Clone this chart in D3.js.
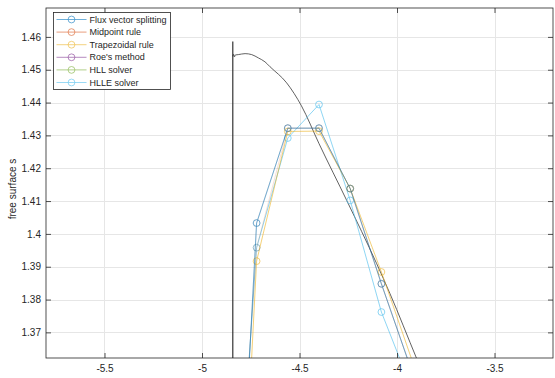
<!DOCTYPE html>
<html>
<head>
<meta charset="utf-8">
<script src="https://cdn.jsdelivr.net/npm/d3@7/dist/d3.min.js"></script>
<style>
  html, body { margin: 0; padding: 0; background: #fff; }
  svg { display: block; font-family: "Liberation Sans", Arial, Helvetica, sans-serif; }
</style>
</head>
<body>
<svg id="chart" width="555" height="378"></svg>
<script>
// Cell-centre positions of the numerical schemes
const cellX = [-4.88, -4.72, -4.56, -4.40, -4.24, -4.08, -3.92];

// Free-surface values of each scheme at the cell centres
const fluxVectorSplitting = [1.224, 1.4033, 1.4322, 1.4322, 1.4138, 1.3848, 1.3575];
const midpointRule        = [1.254, 1.3958, 1.4322, 1.4322, 1.4138, 1.3848, 1.3575];
const trapezoidalRule     = [1.206, 1.3917, 1.4312, 1.4313, 1.4138, 1.3884, 1.3610];
const roesMethod          = [1.224, 1.4033, 1.4322, 1.4322, 1.4138, 1.3848, 1.3575];
const hllSolver           = [1.224, 1.4033, 1.4322, 1.4322, 1.4138, 1.3848, 1.3575];
const hlleSolver          = [1.254, 1.3958, 1.4292, 1.4394, 1.4102, 1.3762, 1.3521];

const seriesNames = ["Flux vector splitting", "Midpoint rule", "Trapezoidal rule",
                     "Roe's method", "HLL solver", "HLLE solver"];
const seriesValues = [fluxVectorSplitting, midpointRule, trapezoidalRule,
                      roesMethod, hllSolver, hlleSolver];
const seriesColors = ["#0072BD", "#D95319", "#EDB120", "#7E2F8E", "#77AC30", "#4DBEEE"];
// thin strokes; schemes that coincide with others are drawn fainter underneath them
const seriesAlpha = [0.72, 0.25, 0.85, 0.15, 0.12, 0.9];
const legendAlpha = 0.8;

// Reference (exact) free surface
const exactX = [-4.842, -4.842, -4.842, -4.838, -4.834, -4.829, -4.814, -4.779, -4.745,
                -4.711, -4.677, -4.651, -4.566, -4.490, -4.400, -4.258, -4.104, -4.036, -3.899, -3.880];
const exactY = [1.300, 1.4586, 1.4541, 1.4547, 1.4539, 1.4545, 1.4546, 1.4549, 1.4546,
                1.4536, 1.4524, 1.4509, 1.4460, 1.4390, 1.4275, 1.4102, 1.3909, 1.3818, 1.3620, 1.3593];

// Axis ticks
const xTicks = [-5.5, -5, -4.5, -4, -3.5];
const yTicks = [1.37, 1.38, 1.39, 1.40, 1.41, 1.42, 1.43, 1.44, 1.45, 1.46];
const xDomain = [-5.8, -3.2];
const yDomain = [1.3622, 1.4688];

const svg = d3.select("#chart");
const L = 46, R = 553, T = 8, B = 358;
const x = d3.scaleLinear().domain(xDomain).range([L, R]);
const y = d3.scaleLinear().domain(yDomain).range([B, T]);
const axisColor = "#262626";

svg.append("defs").append("clipPath").attr("id", "plotClip")
  .append("rect").attr("x", L).attr("y", T).attr("width", R - L).attr("height", B - T);

// grid
const grid = svg.append("g").attr("stroke", "#e6e6e6").attr("stroke-width", 1);
grid.selectAll(".gx").data(xTicks).join("line")
  .attr("x1", d => Math.round(x(d)) + 0.5).attr("x2", d => Math.round(x(d)) + 0.5)
  .attr("y1", T).attr("y2", B);
grid.selectAll(".gy").data(yTicks).join("line")
  .attr("y1", d => Math.round(y(d)) + 0.5).attr("y2", d => Math.round(y(d)) + 0.5)
  .attr("x1", L).attr("x2", R);

// data
const plot = svg.append("g").attr("clip-path", "url(#plotClip)");
const line = d3.line().x(d => x(d[0])).y(d => y(d[1]));

const exactPts = exactX.map((v, i) => [v, exactY[i]]);
plot.append("path")
  .attr("d", d3.line().x(d => x(d[0])).y(d => y(d[1])).curve(d3.curveMonotoneX)(exactPts.slice(2)))
  .attr("fill", "none").attr("stroke", "#3a3a3a").attr("stroke-width", 0.8);
plot.append("path")
  .attr("d", line(exactPts.slice(0, 3)))
  .attr("fill", "none").attr("stroke", "#222").attr("stroke-width", 1.1);

// later series first so the first-listed scheme sits on top
const order = d3.range(seriesNames.length).reverse();
order.forEach(i => {
  const pts = cellX.map((v, j) => [v, seriesValues[i][j]]);
  const g = plot.append("g").attr("opacity", seriesAlpha[i]);
  g.append("path").attr("d", line(pts))
    .attr("fill", "none").attr("stroke", seriesColors[i]).attr("stroke-width", 0.7);
  g.selectAll("circle").data(pts).join("circle")
    .attr("cx", d => x(d[0])).attr("cy", d => y(d[1])).attr("r", 3.4)
    .attr("fill", "none").attr("stroke", seriesColors[i]).attr("stroke-width", 0.7);
});

// axes (ticks point inward, box on all sides)
function styleAxis(g) {
  g.select(".domain").remove();
  g.selectAll(".tick line").attr("stroke", axisColor).attr("stroke-width", 0.8);
  g.selectAll(".tick text").attr("fill", axisColor).attr("font-size", 10);
}
svg.append("g").attr("transform", `translate(0,${B})`)
  .call(d3.axisBottom(x).tickValues(xTicks).tickFormat(d => String(d)).tickSize(-5).tickPadding(7))
  .call(styleAxis);
svg.append("g").attr("transform", `translate(0,${T})`)
  .call(d3.axisTop(x).tickValues(xTicks).tickFormat("").tickSize(-5))
  .call(styleAxis);
svg.append("g").attr("transform", `translate(${L},0)`)
  .call(d3.axisLeft(y).tickValues(yTicks).tickFormat(d => String(+d.toFixed(2))).tickSize(-5).tickPadding(5))
  .call(styleAxis);
svg.append("g").attr("transform", `translate(${R},0)`)
  .call(d3.axisRight(y).tickValues(yTicks).tickFormat("").tickSize(-5))
  .call(styleAxis);
svg.append("rect").attr("x", L).attr("y", T).attr("width", R - L).attr("height", B - T)
  .attr("fill", "none").attr("stroke", axisColor).attr("stroke-width", 0.8);

svg.append("text")
  .attr("transform", "translate(16,189) rotate(-90)")
  .attr("text-anchor", "middle").attr("font-size", 10).attr("fill", axisColor)
  .text("free surface s");

// legend
const lg = svg.append("g").attr("transform", "translate(53.5,12.5)");
lg.append("rect").attr("width", 117).attr("height", 77)
  .attr("fill", "#fff").attr("stroke", axisColor).attr("stroke-width", 0.8);
seriesNames.forEach((name, i) => {
  const cy = 7 + i * 12.6;
  const key = lg.append("g").attr("opacity", legendAlpha);
  key.append("line").attr("x1", 3).attr("x2", 33).attr("y1", cy).attr("y2", cy)
    .attr("stroke", seriesColors[i]).attr("stroke-width", 0.7);
  key.append("circle").attr("cx", 18).attr("cy", cy).attr("r", 3.4)
    .attr("fill", "none").attr("stroke", seriesColors[i]).attr("stroke-width", 0.7);
  lg.append("text").attr("x", 36).attr("y", cy).attr("dy", "0.35em")
    .attr("font-size", 9).attr("fill", axisColor).text(name);
});
</script>
</body>
</html>
